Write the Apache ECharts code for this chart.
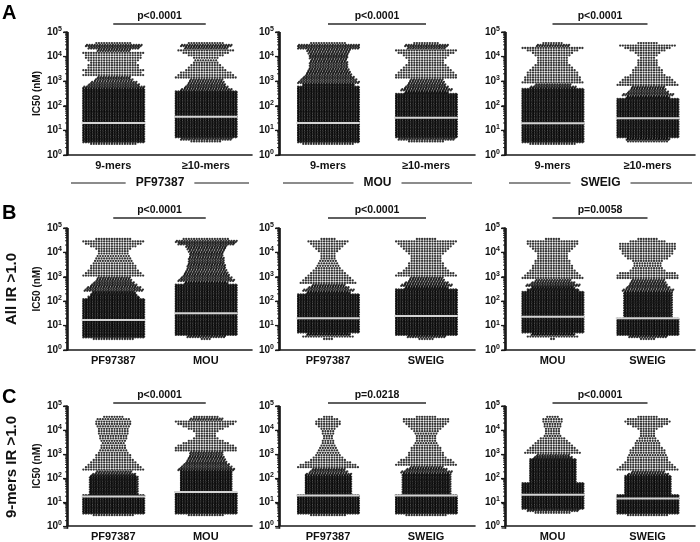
<!DOCTYPE html>
<html><head><meta charset="utf-8">
<script src="https://cdn.jsdelivr.net/npm/echarts@6/dist/echarts.min.js"></script>
<style>html,body{margin:0;padding:0;background:#fff}#c{width:700px;height:542px}</style>
</head><body><div id="c"></div>
<script>
// ---------- data (dots per 0.1-decade bin of log10 IC50, bins start at 10^0.4) ----------
const binStartLog = 0.4, binWidthLog = 0.1;

const catsA = ['9-mers', '≥10-mers'];
const catsB1 = ['PF97387', 'MOU'];
const catsB2 = ['PF97387', 'SWEIG'];
const catsB3 = ['MOU', 'SWEIG'];

const pfNine  = [18, 72,72,72,72,72,72,72,72,72,72, 72,72,72,72,72,72,72,72,72,72, 72,72, 48,40,36, 30,26,24, 22,24,20, 20,18,20,22, 22,24,26, 40,44, 14];
const pfTen   = [0,12,40, 72,72,72,72,72,72,72,72,72,72, 72,72,72,72,72,72,72,72,72, 40,34,30,28, 26,24,22,20, 16,14,12,10, 9,10,14, 18,22, 34,40, 14];
const mouNine = [20, 72,72,72,72,72,72,72,72,72,72, 72,72,72,72,72,72,72,72,72,72, 72,72,72, 60,48, 44,40,36, 34,32,30, 30,30,28,30, 30,32,34, 48,48, 14];
const mouTen  = [0,14,44, 72,72,72,72,72,72,72,72,72,72, 72,72,72,72,72,72,72,72, 50,40,34, 30,28,26, 24,24,22, 20,18,16, 14,14,16, 18,22,24, 30,34, 10];
const swNine  = [18, 72,72,72,72,72,72,72,72,72,72, 72,72,72,72,72,72,72,72,72,72, 72,72, 36,28,24, 22,22,20, 20,18, 16,14,12,12, 12,14,16, 20,24,26, 8];
const swTen   = [0,16,50, 72,72,72,72,72,72,72,72,72,72, 72,72,72,72,72,72, 50,40,32, 28,26,24,22, 20,18, 14,12,12, 10,8,8,8,6, 8,10, 14,18,22, 8];

const allPF_vsMOU  = [16, 72,72,72,72,72,72,72,72,72,72, 72,72,72,72,72,72, 60,54,50,46,42, 36,32,28,26, 24,22,20, 18,18,16, 15,14,13,12, 12,14,18, 22,24, 14];
const allMOU_vsPF  = [4,30, 72,72,72,72,72,72,72,72,72,72, 72,72,72,72,72,72,72,72,72,72,72, 50,44,40, 36,34,32, 30,30,28, 28,28,26,26, 28,30,32, 44,48, 18];
const allPF_vsSW   = [4,20,50, 72,72,72,72,72,72,72,72,72,72, 72,72,72,72,72,72, 50,40,32, 26,22,20, 18,16,14, 12,10,9, 8,7,6,6,6, 8,10,12, 14,16, 6];
const allSW_vsPF   = [6,30, 72,72,72,72,72,72,72,72,72,72, 72,72,72,72,72,72,72,72,72, 50,40,34, 28,26,24, 22,18,16, 14,14,12,12, 12,14,16, 18,20, 22,24, 8];
const allMOU_vsSW  = [2,20,50, 72,72,72,72,72,72,72,72,72,72, 72,72,72,72,72,72,72, 60,50,42, 34,28,24, 22,20,18, 16,16,14, 14,12,12,12, 14,16,18, 20,20, 6];
const allSW_vsMOU  = [6,30, 72,72,72,72,72,72,72, 56,56,56,56,56,56,56,56,56,56,56, 40,34,30,28, 26,24,24,22, 14,12,11,11,12, 16,18,20,20,22,22,22, 14, 8];

const nmPF_vsMOU   = [16, 72,72,72,72,72,72,72,72, 56,56,56,56,56,56,56,56, 34,28,24,22, 20,18,16, 14,14,12, 11,10,10,9,10, 11,11,12,12, 12,13,14, 14,13, 8];
const nmMOU_vsPF   = [14, 72,72,72,72,72,72,72,72,72, 60,60,60,60,60,60,60,60,60, 44,40,36,32,30,28, 26,26,24,24,22, 18,14,10, 8,8,10, 14,18,22, 24,26, 10];
const nmPF_vsSW    = [14, 72,72,72,72,72,72,72,72, 54,54,54,54,54,54,54,54, 36,30,26, 24,22,18, 14,12,10, 9,8,7, 6,5,5,4,4,5,5, 6,8,10, 10,8, 4];
const nmSW_vsPF    = [16, 72,72,72,72,72,72,72,72, 56,56,56,56,56,56,56,56,56, 40,32,26,24, 22,20, 16,14,14,12,12, 10,9,8,8,8,9,10, 12,14,16, 18,18, 8];
const nmMOU_vsSW   = [0,14,40, 72,72,72,72,72,72,72,72,72,72,72, 54,54,54,54,54,54,54,54,54,54, 30,26,22,20, 18,16,14, 12,10, 7,6,6, 6,7,7,8,8, 5];
const nmSW_vsMOU   = [16, 72,72,72,72,72,72,72,72, 54,54,54,54,54,54,54,54, 32,26,24, 22,20,18, 16,16,15,14,14, 12,10,10,9, 7,6,6,6,8, 12,16,18, 16, 8];

// medians (nM)
const medA1 = [20, 36], medA2 = [20, 33], medA3 = [19.5, 31];
const medB1 = [17, 32], medB2 = [20, 25], medB3 = [23, 20];
const medC1 = [17, 26], medC2 = [18.6, 18.6], medC3 = [20, 14];

const pTexts = ['p<0.0001', 'p<0.0001', 'p<0.0001',
                'p<0.0001', 'p<0.0001', 'p=0.0058',
                'p<0.0001', 'p=0.0218', 'p<0.0001'];
const groupLabels = ['PF97387', 'MOU', 'SWEIG'];
const rowLetters = ['A', 'B', 'C'];
const rowTitles = ['', 'All IR >1.0', '9-mers IR >1.0'];
const yMajorTicks = [1, 10, 100, 1000, 10000, 100000];

const panels = [
  {cats: catsA, counts: [pfNine, pfTen], med: medA1},
  {cats: catsA, counts: [mouNine, mouTen], med: medA2},
  {cats: catsA, counts: [swNine, swTen], med: medA3},
  {cats: catsB1, counts: [allPF_vsMOU, allMOU_vsPF], med: medB1},
  {cats: catsB2, counts: [allPF_vsSW, allSW_vsPF], med: medB2},
  {cats: catsB3, counts: [allMOU_vsSW, allSW_vsMOU], med: medB3},
  {cats: catsB1, counts: [nmPF_vsMOU, nmMOU_vsPF], med: medC1},
  {cats: catsB2, counts: [nmPF_vsSW, nmSW_vsPF], med: medC2},
  {cats: catsB3, counts: [nmMOU_vsSW, nmSW_vsMOU], med: medC3}
];

// ---------- layout ----------
const F = "'Liberation Sans', Arial, Helvetica, sans-serif";
const COLS = [{left: 67, width: 185}, {left: 279, width: 196}, {left: 505, width: 190}];
const ROWS = [{top: 32, height: 123}, {top: 228, height: 122}, {top: 406, height: 122}];
const PLINE_Y = [24, 218, 403];
const MAXW = 24, DOT_PX = 2.6;
const AXIS_COLOR = '#1a1a1a';

function swarm(counts, xc, sp) {
  const pts = [];
  counts.forEach((n, i) => {
    if (!n) return;
    const rows = Math.ceil(n / MAXW);
    let rem = n;
    for (let r = 0; r < rows; r++) {
      const inRow = Math.round(rem / (rows - r));
      rem -= inRow;
      const lv = binStartLog + binWidthLog * i + binWidthLog * (r + 0.5) / rows;
      const y = Math.pow(10, lv);
      const shift = rows > 1 && r % 2 ? 0.4 * sp : 0;
      for (let k = 0; k < inRow; k++) {
        pts.push([xc + (k - (inRow - 1) / 2) * sp + shift, y]);
      }
    }
  });
  return pts;
}

const minorTickVals = [];
for (let e = 0; e < 5; e++) for (let m = 2; m <= 9; m++) minorTickVals.push(m * Math.pow(10, e));

const grids = [], xAxes = [], yAxes = [], series = [], scatterIdx = [];
panels.forEach((P, g) => {
  const r = Math.floor(g / 3), c = g % 3;
  grids.push({left: COLS[c].left, width: COLS[c].width, top: ROWS[r].top, height: ROWS[r].height, containLabel: false});
  xAxes.push({
    type: 'category', gridIndex: g, data: P.cats,
    axisLine: {onZero: false, lineStyle: {color: AXIS_COLOR, width: 1.6}},
    axisTick: {alignWithLabel: true, length: 3, lineStyle: {color: AXIS_COLOR, width: 1.2}},
    axisLabel: {fontFamily: F, fontWeight: 'bold', fontSize: 11, color: '#111', margin: 5},
    splitLine: {show: false}
  });
  xAxes.push({type: 'value', gridIndex: g, min: -0.5, max: 1.5, show: false});
  yAxes.push({
    type: 'log', gridIndex: g, logBase: 10, min: 1, max: 100000,
    axisLine: {show: true, onZero: false, lineStyle: {color: AXIS_COLOR, width: 1.6}},
    axisTick: {show: true, length: 4, lineStyle: {color: AXIS_COLOR, width: 1.2}},
    splitLine: {show: false},
    name: c === 0 ? 'IC50 (nM)' : '', nameLocation: 'middle', nameRotate: 90, nameGap: 25,
    nameTextStyle: {fontFamily: F, fontWeight: 'bold', fontSize: 10, color: '#111'},
    axisLabel: {
      margin: 5,
      formatter: v => '{b|10}{s|' + Math.round(Math.log10(v)) + '}',
      rich: {
        b: {fontFamily: F, fontWeight: 'bold', fontSize: 10, color: '#111', lineHeight: 13},
        s: {fontFamily: F, fontWeight: 'bold', fontSize: 7, color: '#111', verticalAlign: 'top', lineHeight: 13}
      }
    }
  });
  const sp = DOT_PX / (COLS[c].width / 2);
  const pts = [];
  P.counts.forEach((cnt, k) => { swarm(cnt, k, sp).forEach(p => pts.push(p)); });
  scatterIdx.push(series.length);
  series.push({type: 'scatter', xAxisIndex: 2 * g + 1, yAxisIndex: g, data: pts, symbol: 'circle', symbolSize: 2.3,
    itemStyle: {color: '#000'}, silent: true, progressive: 0, large: false, z: 2, animation: false});
  P.med.forEach((m, k) => {
    const hw = (MAXW / 2) * sp + sp * 0.2;
    series.push({type: 'line', xAxisIndex: 2 * g + 1, yAxisIndex: g, data: [[k - hw, m], [k + hw, m]], symbol: 'none',
      lineStyle: {color: '#d4d4d4', width: 2}, z: 5, silent: true, animation: false});
  });
  // y axis spine as a line series (fallback)
  series.push({type: 'line', xAxisIndex: 2 * g + 1, yAxisIndex: g, data: [[-0.49, 1], [-0.49, 100000]], symbol: 'none', clip: false,
    lineStyle: {color: AXIS_COLOR, width: 1.6}, z: 8, silent: true, animation: false});
});

const chart = echarts.init(document.getElementById('c'), null, {renderer: 'canvas'});
chart.setOption({animation: false, backgroundColor: '#fff', grid: grids, xAxis: xAxes, yAxis: yAxes, series: series});

const gr = [];
panels.forEach((P, g) => {
  const r = Math.floor(g / 3), c = g % 3;
  const toPx = v => chart.convertToPixel({seriesIndex: scatterIdx[g]}, v);
  // y axis ticks in the grid frame (log scale of the panel rectangle)
  const X = COLS[c].left + 0.5, B = ROWS[r].top + ROWS[r].height, H = ROWS[r].height;
  const yOf = v => B - H * Math.log10(v) / 5;
  gr.push({type: 'line', zlevel: 1, z: 50, shape: {x1: X, y1: B + 0.8, x2: X, y2: ROWS[r].top}, style: {stroke: AXIS_COLOR, lineWidth: 1.6}});
  yMajorTicks.forEach(v => {
    gr.push({type: 'line', zlevel: 1, z: 50, shape: {x1: X - 4, y1: yOf(v), x2: X, y2: yOf(v)}, style: {stroke: AXIS_COLOR, lineWidth: 1.2}});
  });
  minorTickVals.forEach(v => {
    gr.push({type: 'line', zlevel: 1, z: 50, shape: {x1: X - 2.5, y1: yOf(v), x2: X, y2: yOf(v)}, style: {stroke: AXIS_COLOR, lineWidth: 0.9}});
  });
  // significance bracket
  const a = toPx([0, 100000]), b = toPx([1, 100000]);
  const y = PLINE_Y[r];
  gr.push({type: 'line', shape: {x1: a[0], y1: y, x2: b[0], y2: y}, style: {stroke: '#2a2a2a', lineWidth: 1.3}, z: 10});
  gr.push({type: 'text', x: (a[0] + b[0]) / 2, y: y - 2, style: {text: pTexts[g], font: 'bold 10.5px ' + F, fill: '#111', textAlign: 'center', textVerticalAlign: 'bottom'}, z: 10});
});
groupLabels.forEach((t, c) => {
  const L = COLS[c].left + 4, R = COLS[c].left + COLS[c].width - 3, y = 183;
  gr.push({type: 'line', shape: {x1: L, y1: y, x2: R, y2: y}, style: {stroke: AXIS_COLOR, lineWidth: 1.2}, z: 10});
  gr.push({type: 'text', x: (L + R) / 2, y: y, style: {text: t, font: 'bold 12px ' + F, fill: '#111', textAlign: 'center', textVerticalAlign: 'middle', backgroundColor: '#fff', padding: [2, 10]}, z: 11});
});
const letterY = [13, 213, 397];
rowLetters.forEach((t, r) => {
  gr.push({type: 'text', x: 2, y: letterY[r], style: {text: t, font: 'bold 20px ' + F, fill: '#000', textAlign: 'left', textVerticalAlign: 'middle'}, z: 10});
});
const titleY = [0, 289, 467];
rowTitles.forEach((t, r) => {
  if (!t) return;
  gr.push({type: 'text', x: 12, y: titleY[r], rotation: Math.PI / 2, style: {text: t, font: 'bold 15px ' + F, fill: '#111', textAlign: 'center', textVerticalAlign: 'middle'}, z: 10});
});
chart.setOption({graphic: gr});
</script>
</body></html>
